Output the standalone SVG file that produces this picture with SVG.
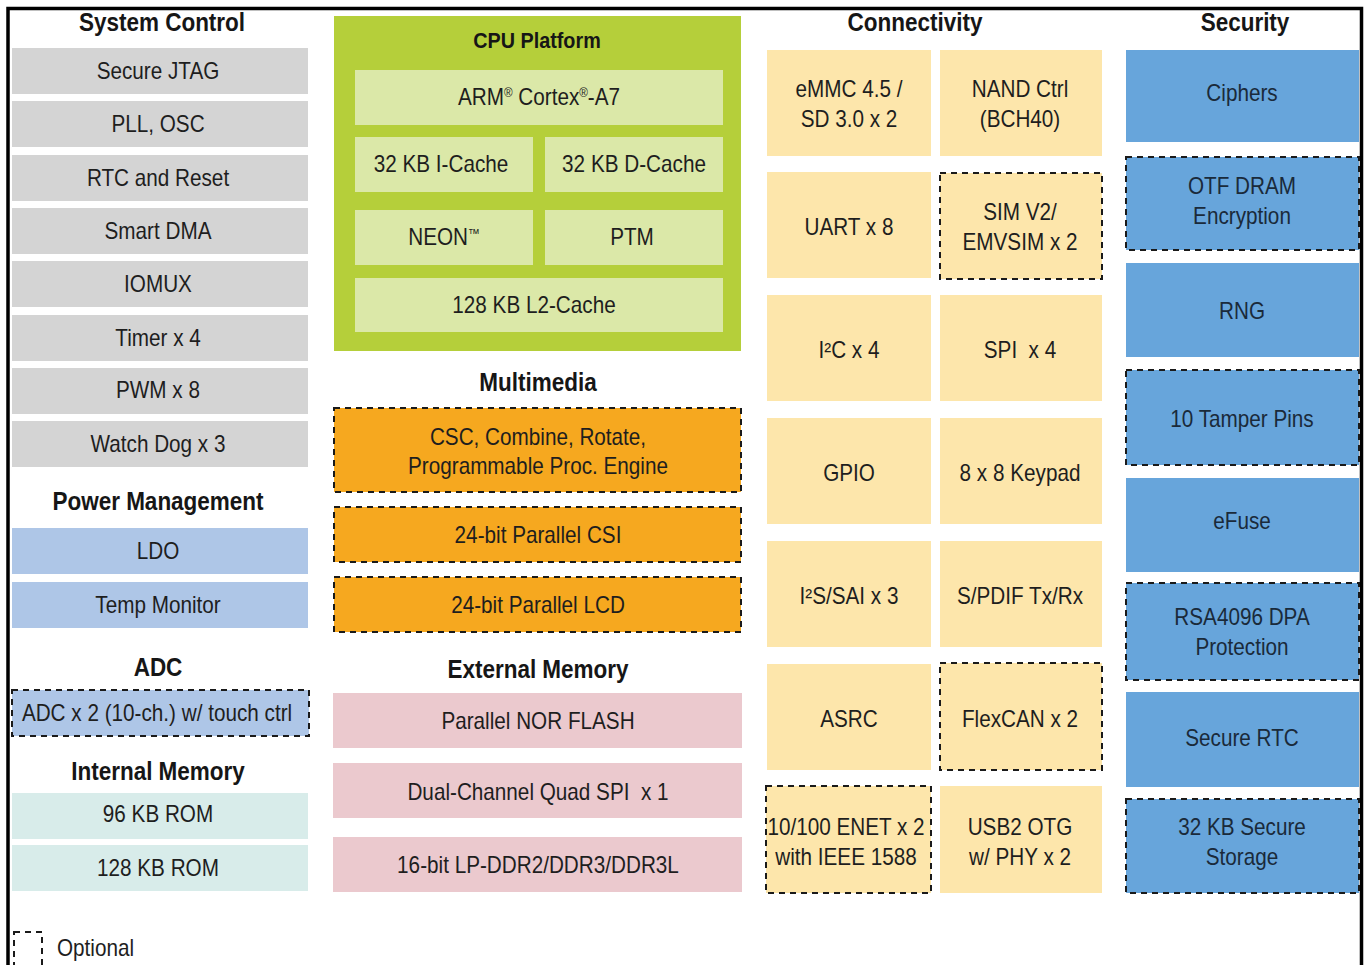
<svg xmlns="http://www.w3.org/2000/svg" width="1370" height="965" viewBox="0 0 1370 965">
<style>
text{font-family:"Liberation Sans",Arial,sans-serif;fill:#1e1e1e;text-anchor:middle}
.t{font-size:23px}
.h{font-size:25px;font-weight:bold;fill:#161616}
.hc{font-size:22px;font-weight:bold;fill:#161616}
.sec text{fill:#1a2a3a}
.d{stroke:#1a1a1a;stroke-width:2;stroke-dasharray:6 5}
.gray{fill:#d4d4d4}
.pwr{fill:#aec6e7}
.rom{fill:#d8ecea}
.cpu{fill:#b5cf3a}
.cin{fill:#dbe8a8}
.org{fill:#f6a81f}
.pnk{fill:#ebc9ce}
.yel{fill:#fde6ab}
.blu{fill:#67a5db}
.sup{font-size:13px}
</style>
<rect x="0" y="0" width="1370" height="965" fill="#ffffff"/>
<rect id="frame" x="8" y="8.5" width="1353.5" height="1000" fill="none" stroke="#000" stroke-width="3.5"/>

<!-- System Control -->
<g id="sys-title"><text class="h" transform="translate(162 31) scale(.9 1)">System Control</text></g>
<g id="n-jtag"><rect class="gray" x="12" y="48" width="296" height="46"/><text class="t" transform="translate(158 79) scale(.9 1)">Secure JTAG</text></g>
<g id="n-pll"><rect class="gray" x="12" y="101" width="296" height="46"/><text class="t" transform="translate(158 132) scale(.9 1)">PLL, OSC</text></g>
<g id="n-rtc"><rect class="gray" x="12" y="155" width="296" height="46"/><text class="t" transform="translate(158 186) scale(.9 1)">RTC and Reset</text></g>
<g id="n-dma"><rect class="gray" x="12" y="208" width="296" height="46"/><text class="t" transform="translate(158 239) scale(.9 1)">Smart DMA</text></g>
<g id="n-iomux"><rect class="gray" x="12" y="261" width="296" height="46"/><text class="t" transform="translate(158 292) scale(.9 1)">IOMUX</text></g>
<g id="n-timer"><rect class="gray" x="12" y="315" width="296" height="46"/><text class="t" transform="translate(158 346) scale(.9 1)">Timer x 4</text></g>
<g id="n-pwm"><rect class="gray" x="12" y="368" width="296" height="46"/><text class="t" transform="translate(158 398) scale(.9 1)">PWM x 8</text></g>
<g id="n-wdog"><rect class="gray" x="12" y="421" width="296" height="46"/><text class="t" transform="translate(158 452) scale(.9 1)">Watch Dog x 3</text></g>

<!-- Power Management -->
<g id="pwr-title"><text class="h" transform="translate(158 510) scale(.9 1)">Power Management</text></g>
<g id="n-ldo"><rect class="pwr" x="12" y="528" width="296" height="46"/><text class="t" transform="translate(158 559) scale(.9 1)">LDO</text></g>
<g id="n-temp"><rect class="pwr" x="12" y="582" width="296" height="46"/><text class="t" transform="translate(158 613) scale(.9 1)">Temp Monitor</text></g>

<!-- ADC -->
<g id="adc-title"><text class="h" transform="translate(158 676) scale(.9 1)">ADC</text></g>
<g id="n-adc"><rect class="pwr d" x="12" y="690" width="297" height="46"/><text class="t" transform="translate(157 721) scale(.9 1)">ADC x 2 (10-ch.) w/ touch ctrl</text></g>

<!-- Internal Memory -->
<g id="imem-title"><text class="h" transform="translate(158 780) scale(.9 1)">Internal Memory</text></g>
<g id="n-rom96"><rect class="rom" x="12" y="793" width="296" height="46"/><text class="t" transform="translate(158 822) scale(.9 1)">96 KB ROM</text></g>
<g id="n-rom128"><rect class="rom" x="12" y="845" width="296" height="46"/><text class="t" transform="translate(158 876) scale(.9 1)">128 KB ROM</text></g>

<!-- Legend -->
<g id="legend"><rect x="14" y="932" width="28" height="45" fill="none" class="d"/><text class="t" style="text-anchor:start" transform="translate(57 956) scale(.9 1)">Optional</text></g>

<!-- CPU Platform -->
<g id="cpu">
<rect class="cpu" x="334" y="16" width="407" height="335"/>
<text class="hc" transform="translate(537 48) scale(.9 1)">CPU Platform</text>
</g>
<g id="n-arm"><rect class="cin" x="355" y="70" width="368" height="55"/><text class="t" transform="translate(539 105) scale(.9 1)">ARM<tspan class="sup" dy="-8">®</tspan><tspan dy="8"> Cortex</tspan><tspan class="sup" dy="-8">®</tspan><tspan dy="8">-A7</tspan></text></g>
<g id="n-icache"><rect class="cin" x="355" y="137" width="178" height="55"/><text class="t" transform="translate(441 172) scale(.9 1)">32 KB I-Cache</text></g>
<g id="n-dcache"><rect class="cin" x="545" y="137" width="178" height="55"/><text class="t" transform="translate(634 172) scale(.9 1)">32 KB D-Cache</text></g>
<g id="n-neon"><rect class="cin" x="355" y="210" width="178" height="55"/><text class="t" transform="translate(444 245) scale(.9 1)">NEON<tspan class="sup" dy="-7">™</tspan></text></g>
<g id="n-ptm"><rect class="cin" x="545" y="210" width="178" height="55"/><text class="t" transform="translate(632 245) scale(.9 1)">PTM</text></g>
<g id="n-l2"><rect class="cin" x="355" y="278" width="368" height="54"/><text class="t" transform="translate(534 313) scale(.9 1)">128 KB L2-Cache</text></g>

<!-- Multimedia -->
<g id="mm-title"><text class="h" transform="translate(538 391) scale(.9 1)">Multimedia</text></g>
<g id="n-csc"><rect class="org d" x="334" y="408" width="407" height="84"/><text class="t" transform="translate(538 445) scale(.9 1)">CSC, Combine, Rotate,</text><text class="t" transform="translate(538 474) scale(.9 1)">Programmable Proc. Engine</text></g>
<g id="n-csi"><rect class="org d" x="334" y="507" width="407" height="55"/><text class="t" transform="translate(538 543) scale(.9 1)">24-bit Parallel CSI</text></g>
<g id="n-lcd"><rect class="org d" x="334" y="577" width="407" height="55"/><text class="t" transform="translate(538 613) scale(.9 1)">24-bit Parallel LCD</text></g>

<!-- External Memory -->
<g id="emem-title"><text class="h" transform="translate(538 678) scale(.9 1)">External Memory</text></g>
<g id="n-nor"><rect class="pnk" x="333" y="693" width="409" height="55"/><text class="t" transform="translate(538 729) scale(.9 1)">Parallel NOR FLASH</text></g>
<g id="n-qspi"><rect class="pnk" x="333" y="763" width="409" height="55"/><text class="t" xml:space="preserve" transform="translate(538 800) scale(.9 1)">Dual-Channel Quad SPI  x 1</text></g>
<g id="n-ddr"><rect class="pnk" x="333" y="837" width="409" height="55"/><text class="t" transform="translate(538 873) scale(.9 1)">16-bit LP-DDR2/DDR3/DDR3L</text></g>

<!-- Connectivity -->
<g id="conn-title"><text class="h" transform="translate(915 31) scale(.9 1)">Connectivity</text></g>
<g id="n-emmc"><rect class="yel" x="767" y="50" width="164" height="106"/><text class="t" transform="translate(849 97) scale(.9 1)">eMMC 4.5 /</text><text class="t" transform="translate(849 127) scale(.9 1)">SD 3.0 x 2</text></g>
<g id="n-nand"><rect class="yel" x="940" y="50" width="162" height="106"/><text class="t" transform="translate(1020 97) scale(.9 1)">NAND Ctrl</text><text class="t" transform="translate(1020 127) scale(.9 1)">(BCH40)</text></g>
<g id="n-uart"><rect class="yel" x="767" y="172" width="164" height="106"/><text class="t" transform="translate(849 235) scale(.9 1)">UART x 8</text></g>
<g id="n-sim"><rect class="yel d" x="940" y="173" width="162" height="106"/><text class="t" transform="translate(1020 220) scale(.9 1)">SIM V2/</text><text class="t" transform="translate(1020 250) scale(.9 1)">EMVSIM x 2</text></g>
<g id="n-i2c"><rect class="yel" x="767" y="295" width="164" height="106"/><text class="t" transform="translate(849 358) scale(.9 1)">I²C x 4</text></g>
<g id="n-spi"><rect class="yel" x="940" y="295" width="162" height="106"/><text class="t" xml:space="preserve" transform="translate(1020 358) scale(.9 1)">SPI  x 4</text></g>
<g id="n-gpio"><rect class="yel" x="767" y="418" width="164" height="106"/><text class="t" transform="translate(849 481) scale(.9 1)">GPIO</text></g>
<g id="n-keypad"><rect class="yel" x="940" y="418" width="162" height="106"/><text class="t" transform="translate(1020 481) scale(.9 1)">8 x 8 Keypad</text></g>
<g id="n-i2s"><rect class="yel" x="767" y="541" width="164" height="106"/><text class="t" transform="translate(849 604) scale(.9 1)">I²S/SAI x 3</text></g>
<g id="n-spdif"><rect class="yel" x="940" y="541" width="162" height="106"/><text class="t" transform="translate(1020 604) scale(.9 1)">S/PDIF Tx/Rx</text></g>
<g id="n-asrc"><rect class="yel" x="767" y="664" width="164" height="106"/><text class="t" transform="translate(849 727) scale(.9 1)">ASRC</text></g>
<g id="n-flexcan"><rect class="yel d" x="940" y="663" width="162" height="107"/><text class="t" transform="translate(1020 727) scale(.9 1)">FlexCAN x 2</text></g>
<g id="n-enet"><rect class="yel d" x="766" y="786" width="165" height="107"/><text class="t" transform="translate(846 835) scale(.9 1)">10/100 ENET x 2</text><text class="t" transform="translate(846 865) scale(.9 1)">with IEEE 1588</text></g>
<g id="n-usb"><rect class="yel" x="940" y="786" width="162" height="107"/><text class="t" transform="translate(1020 835) scale(.9 1)">USB2 OTG</text><text class="t" transform="translate(1020 865) scale(.9 1)">w/ PHY x 2</text></g>

<!-- Security -->
<g id="sec-title"><text class="h" transform="translate(1245 31) scale(.9 1)">Security</text></g>
<g class="sec">
<g id="n-ciphers"><rect class="blu" x="1126" y="50" width="233" height="92"/><text class="t" transform="translate(1242 101) scale(.9 1)">Ciphers</text></g>
<g id="n-otf"><rect class="blu d" x="1126" y="157" width="233" height="93"/><text class="t" transform="translate(1242 194) scale(.9 1)">OTF DRAM</text><text class="t" transform="translate(1242 224) scale(.9 1)">Encryption</text></g>
<g id="n-rng"><rect class="blu" x="1126" y="263" width="233" height="94"/><text class="t" transform="translate(1242 319) scale(.9 1)">RNG</text></g>
<g id="n-tamper"><rect class="blu d" x="1126" y="370" width="233" height="95"/><text class="t" transform="translate(1242 427) scale(.9 1)">10 Tamper Pins</text></g>
<g id="n-efuse"><rect class="blu" x="1126" y="478" width="233" height="94"/><text class="t" transform="translate(1242 529) scale(.9 1)">eFuse</text></g>
<g id="n-rsa"><rect class="blu d" x="1126" y="583" width="233" height="97"/><text class="t" transform="translate(1242 625) scale(.9 1)">RSA4096 DPA</text><text class="t" transform="translate(1242 655) scale(.9 1)">Protection</text></g>
<g id="n-srtc"><rect class="blu" x="1126" y="692" width="233" height="95"/><text class="t" transform="translate(1242 746) scale(.9 1)">Secure RTC</text></g>
<g id="n-sstore"><rect class="blu d" x="1126" y="799" width="233" height="94"/><text class="t" transform="translate(1242 835) scale(.9 1)">32 KB Secure</text><text class="t" transform="translate(1242 865) scale(.9 1)">Storage</text></g>
</g>

<g id="connectors"></g>
</svg>
